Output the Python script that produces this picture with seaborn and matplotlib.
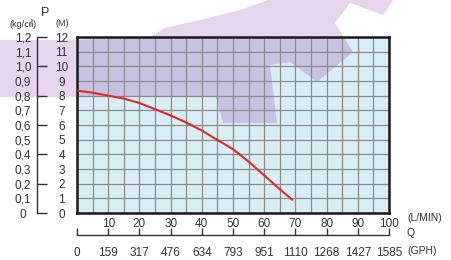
import matplotlib
matplotlib.use("Agg")
import matplotlib.pyplot as plt
from matplotlib.patches import Polygon
from matplotlib.ticker import FixedLocator, FixedFormatter
import seaborn as sns

# pump curve (flow in L/min, head in metres)
FLOW_LPM = [0, 5, 10, 15, 20, 25, 30, 35, 40, 45, 50, 55, 60, 65, 69]
HEAD_M = [8.35, 8.2, 8.0, 7.8, 7.5, 7.08, 6.65, 6.17, 5.62, 4.98, 4.35, 3.5, 2.57, 1.62, 0.9]

# axis ticks
M_TICKS = list(range(0, 13))
KG_TICKS = [0.0, 0.1, 0.2, 0.3, 0.4, 0.5, 0.6, 0.7, 0.8, 0.9, 1.0, 1.1, 1.2]
KG_LABELS = ["0", "0,1", "0,2", "0,3", "0,4", "0,5", "0,6", "0,7", "0,8", "0,9", "1,0", "1,1", "1,2"]
Q_TICKS = [0, 10, 20, 30, 40, 50, 60, 70, 80, 90, 100]
GPH_LABELS = ["0", "159", "317", "476", "634", "793", "951", "1110", "1268", "1427", "1585"]

W, H = 452, 260
TEXT = "#333333"

sns.set_theme(style="white")
plt.rcParams["font.family"] = ["Liberation Sans Narrow", "Liberation Sans", "DejaVu Sans"]
plt.rcParams["text.color"] = TEXT
plt.rcParams["xtick.color"] = TEXT
plt.rcParams["ytick.color"] = TEXT

fig = plt.figure(figsize=(W / 100, H / 100), dpi=100)
fig.patch.set_facecolor("white")

left, right, top, bottom = 77, 389, 37, 213
ax = fig.add_axes([left / W, 1 - bottom / H, (right - left) / W, (bottom - top) / H])
ax.set_facecolor("#d9edf5")


def px(pts):
    return [(x / W, 1 - y / H) for x, y in pts]


# lavender watermark behind the chart
mark = [(0, 40), (75, 40), (150, 37), (165, 28), (200, 20), (240, 10), (268, 0),
        (393, 0), (383, 15), (350, 3), (335, 23), (353, 52), (317, 82), (290, 62),
        (270, 65), (277, 123), (223, 123), (216, 97), (0, 97)]
fig.patches.append(Polygon(px(mark), closed=True, transform=fig.transFigure,
                           facecolor="#e5d5ed", edgecolor="none", zorder=-1))
inner = Polygon(px(mark), closed=True, transform=fig.transFigure,
                facecolor="#c7c2e2", edgecolor="none", zorder=0.2)
ax.add_patch(inner)
inner.set_clip_path(ax.patch)

sns.lineplot(x=FLOW_LPM, y=HEAD_M, ax=ax, color="#e3262a", linewidth=1.5, zorder=3)

ax.set_xlim(0, 100)
ax.set_ylim(0, 12)
grid_x = list(range(0, 101, 5))
ax.set_xticks(grid_x, labels=[str(q) if q % 10 == 0 and q > 0 else "" for q in grid_x])
ax.set_yticks(M_TICKS, labels=[str(m) for m in M_TICKS])
ax.set_axisbelow(True)
ax.grid(True, color="#8c8c8c", linewidth=0.9)
ax.tick_params(axis="x", length=0, pad=3.5, labelsize=8.5)
ax.tick_params(axis="y", length=0, pad=11, labelsize=8.5)
for lab in ax.get_yticklabels():
    lab.set_ha("center")
for s in ax.spines.values():
    s.set_color("#1a1a1a")
    s.set_linewidth(1.8)
ax.set_xlabel("")
ax.set_ylabel("")

# kg/cm2 bracket axis on the left
ax_kg = ax.secondary_yaxis((37.5 - left) / (right - left),
                           functions=(lambda m: m / 10, lambda k: k * 10))
ax_kg.yaxis.set_major_locator(FixedLocator(KG_TICKS[::2]))
ax_kg.yaxis.set_major_formatter(FixedFormatter(KG_LABELS[::2]))
ax_kg.yaxis.set_minor_locator(FixedLocator(KG_TICKS[1::2]))
ax_kg.yaxis.set_minor_formatter(FixedFormatter(KG_LABELS[1::2]))
ax_kg.tick_params(axis="y", which="major", direction="in", length=7.5, width=1,
                  color=TEXT, pad=10.5, labelsize=8.5)
ax_kg.tick_params(axis="y", which="minor", length=0, pad=10.5, labelsize=8.5)
for lab in ax_kg.get_yticklabels(which="both"):
    lab.set_ha("center")
ax_kg.spines["left"].set_color(TEXT)
ax_kg.spines["left"].set_linewidth(1)

# GPH axis below
ax_gph = ax.secondary_xaxis((bottom - 235) / (bottom - top))
ax_gph.set_xticks(Q_TICKS, labels=GPH_LABELS)
ax_gph.tick_params(axis="x", direction="in", length=5, width=1, color=TEXT,
                   pad=9, labelsize=8.5)
ax_gph.spines["bottom"].set_color(TEXT)
ax_gph.spines["bottom"].set_linewidth(1)

# unit labels
fig.text(45.5 / W, 1 - 13 / H, "P", ha="center", va="center", fontsize=9)
fig.text(23 / W, 1 - 24 / H, "(kg/㎠)", ha="center", va="center", fontsize=6.5,
         family=["Liberation Sans Narrow", "Liberation Sans", "Noto Sans CJK SC"])
fig.text(62 / W, 1 - 24 / H, "(M)", ha="center", va="center", fontsize=6.5)
fig.text(407 / W, 1 - 218 / H, "(L/MIN)", ha="left", va="center", fontsize=7.5)
fig.text(407 / W, 1 - 233 / H, "Q", ha="left", va="center", fontsize=7.5)
fig.text(407 / W, 1 - 251 / H, "(GPH)", ha="left", va="center", fontsize=7.5)

fig.savefig("out.png", dpi=100)
